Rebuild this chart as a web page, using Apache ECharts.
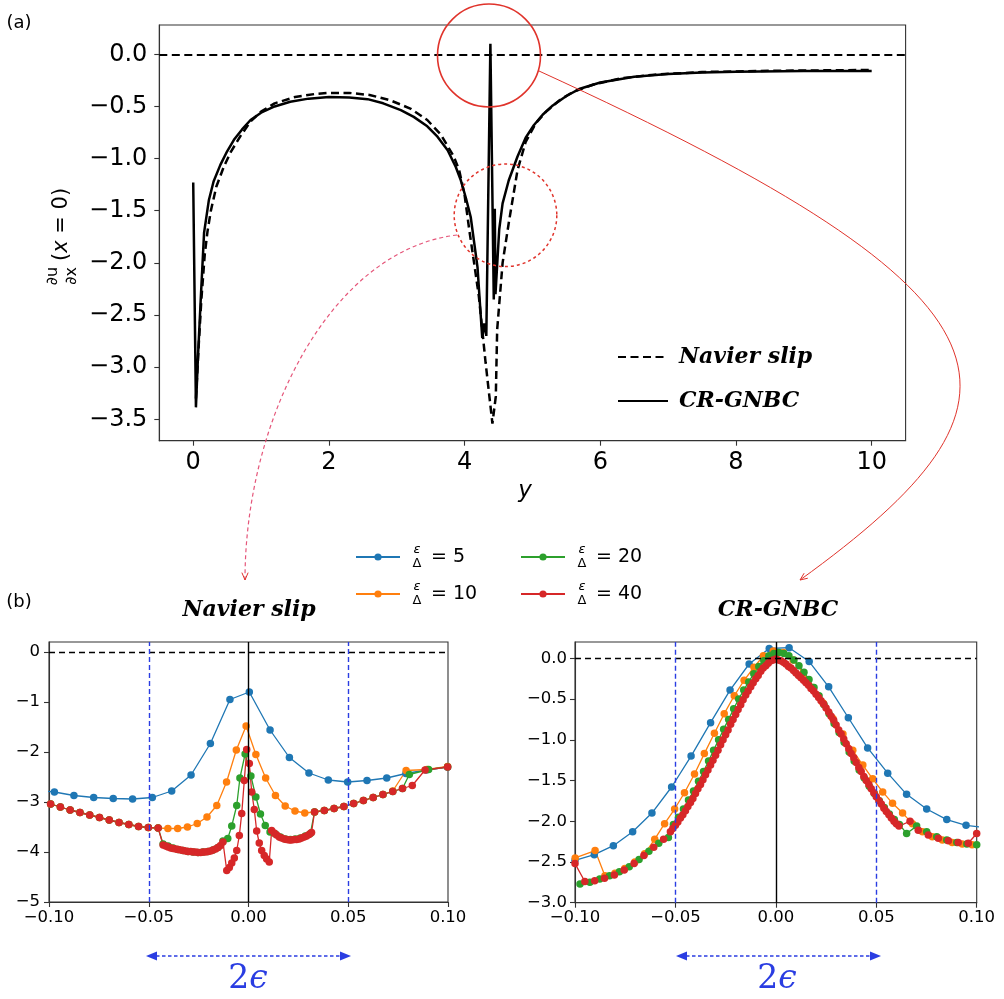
<!DOCTYPE html>
<html>
<head>
<meta charset="utf-8">
<title>Contact-line strain rate</title>
<script src="https://cdn.jsdelivr.net/npm/echarts@6/dist/echarts.min.js"></script>
<style>
  html, body { margin: 0; padding: 0; background: #fff; }
  #chart { width: 1004px; height: 999px; }
</style>
</head>
<body>
<div id="chart"></div>
<script>
// ---- (a) wall profile of du/dx at x = 0 along y ----
const profileNavier = [
  [0.040,-3.30],[0.080,-2.80],[0.120,-2.35],[0.170,-1.92],[0.210,-1.70],[0.260,-1.50],[0.340,-1.27],
  [0.450,-1.08],[0.550,-0.94],[0.700,-0.78],[0.850,-0.64],[1.000,-0.55],[1.200,-0.47],[1.500,-0.41],
  [1.800,-0.38],[2.000,-0.37],[2.300,-0.37],[2.600,-0.39],[2.900,-0.44],[3.200,-0.52],[3.450,-0.63],
  [3.650,-0.77],[3.840,-0.98],[3.920,-1.11],[4.000,-1.35],[4.070,-1.69],[4.140,-2.00],[4.210,-2.32],
  [4.310,-2.96],[4.410,-3.54],[4.460,-3.28],[4.480,-2.64],[4.560,-2.00],[4.650,-1.62],[4.780,-1.11],
  [4.900,-0.84],[5.050,-0.66],[5.200,-0.55],[5.400,-0.44],[5.600,-0.36],[5.900,-0.29],[6.300,-0.23],
  [6.800,-0.195],[7.500,-0.17],[8.500,-0.158],[10.000,-0.15]
];
const profileGnbc = [
  [0.000,-1.23],[0.040,-3.385],[0.070,-2.90],[0.110,-2.36],[0.160,-1.71],[0.230,-1.40],[0.300,-1.22],
  [0.400,-1.06],[0.500,-0.93],[0.600,-0.82],[0.720,-0.72],[0.845,-0.63],[1.000,-0.56],[1.200,-0.50],
  [1.430,-0.455],[1.700,-0.425],[2.000,-0.41],[2.300,-0.415],[2.570,-0.43],[2.800,-0.47],[3.060,-0.535],
  [3.250,-0.60],[3.450,-0.69],[3.600,-0.79],[3.750,-0.92],[3.870,-1.08],[3.940,-1.20],[4.020,-1.38],
  [4.090,-1.56],[4.190,-2.04],[4.260,-2.72],[4.290,-2.58],[4.320,-2.70],[4.380,0.10],[4.430,-2.35],
  [4.445,-1.48],[4.455,-2.30],[4.510,-1.68],[4.560,-1.43],[4.650,-1.21],[4.780,-0.98],[4.900,-0.80],
  [5.020,-0.68],[5.150,-0.58],[5.300,-0.49],[5.500,-0.40],[5.700,-0.33],[6.000,-0.27],[6.500,-0.215],
  [7.000,-0.19],[7.500,-0.175],[8.000,-0.167],[9.000,-0.16],[10.000,-0.16]
];

// ---- (b) close-up near the contact line, Navier slip ----
const navierBlue = [
  [-0.1071,-2.76],[-0.0973,-2.80],[-0.0875,-2.87],[-0.0776,-2.91],[-0.0678,-2.93],[-0.0581,-2.94],
  [-0.0482,-2.91],[-0.0385,-2.78],[-0.0288,-2.46],[-0.0191,-1.83],[-0.0093,-0.95],[0.0004,-0.80],
  [0.0108,-1.56],[0.0205,-2.11],[0.0303,-2.42],[0.0400,-2.56],[0.0497,-2.60],[0.0594,-2.57],
  [0.0693,-2.52],[0.0789,-2.43],[0.0891,-2.36],[0.0998,-2.30]
];
const navierOrange = [
  [-0.0992,-3.04],[-0.0943,-3.10],[-0.0894,-3.16],[-0.0845,-3.21],[-0.0796,-3.26],[-0.0747,-3.31],
  [-0.0698,-3.36],[-0.0649,-3.41],[-0.0600,-3.45],[-0.0551,-3.49],[-0.0502,-3.51],[-0.0453,-3.52],
  [-0.0404,-3.53],[-0.0355,-3.53],[-0.0306,-3.50],[-0.0257,-3.43],[-0.0208,-3.30],[-0.0159,-3.07],
  [-0.0110,-2.60],[-0.0061,-1.96],[-0.0012,-1.48],[0.0037,-2.05],[0.0086,-2.52],[0.0135,-2.87],
  [0.0184,-3.08],[0.0233,-3.18],[0.0282,-3.22],[0.0331,-3.20],[0.0380,-3.17],[0.0429,-3.13],
  [0.0478,-3.09],[0.0527,-3.03],[0.0576,-2.97],[0.0625,-2.91],[0.0674,-2.85],[0.0723,-2.78],
  [0.0790,-2.37],[0.0895,-2.35],[0.0998,-2.29]
];
const navierGreen = [
  [-0.0992,-3.04],[-0.0943,-3.10],[-0.0894,-3.16],[-0.0845,-3.21],[-0.0796,-3.26],[-0.0747,-3.31],
  [-0.0698,-3.36],[-0.0649,-3.41],[-0.0600,-3.45],[-0.0551,-3.49],[-0.0502,-3.51],[-0.0453,-3.52],
  [-0.0428,-3.84],[-0.0403,-3.88],[-0.0378,-3.92],[-0.0353,-3.95],[-0.0328,-3.97],[-0.0303,-3.99],
  [-0.0278,-4.00],[-0.0253,-4.01],[-0.0228,-4.00],[-0.0203,-3.99],[-0.0178,-3.96],[-0.0153,-3.91],
  [-0.0128,-3.78],[-0.0104,-3.73],[-0.0084,-3.48],[-0.0059,-3.07],[-0.0043,-2.52],[-0.0017,-2.04],
  [0.0012,-2.48],[0.0037,-2.90],[0.0060,-3.24],[0.0084,-3.47],[0.0108,-3.60],[0.0135,-3.64],
  [0.0160,-3.70],[0.0185,-3.74],[0.0210,-3.75],[0.0235,-3.74],[0.0260,-3.72],[0.0285,-3.68],
  [0.0310,-3.63],[0.0331,-3.20],[0.0380,-3.17],[0.0429,-3.13],[0.0478,-3.09],[0.0527,-3.03],
  [0.0576,-2.97],[0.0625,-2.91],[0.0674,-2.85],[0.0723,-2.79],[0.0772,-2.73],[0.0806,-2.45],
  [0.0903,-2.35],[0.0998,-2.30]
];
const navierRed = [
  [-0.0992,-3.04],[-0.0943,-3.10],[-0.0894,-3.16],[-0.0845,-3.21],[-0.0796,-3.26],[-0.0747,-3.31],
  [-0.0698,-3.36],[-0.0649,-3.41],[-0.0600,-3.45],[-0.0551,-3.49],[-0.0502,-3.51],[-0.0453,-3.52],
  [-0.0428,-3.86],[-0.0415,-3.88],[-0.0403,-3.90],[-0.0390,-3.92],[-0.0378,-3.93],[-0.0365,-3.94],
  [-0.0353,-3.95],[-0.0340,-3.96],[-0.0328,-3.97],[-0.0315,-3.98],[-0.0303,-3.99],[-0.0290,-3.99],
  [-0.0278,-4.00],[-0.0265,-4.00],[-0.0253,-4.01],[-0.0240,-4.01],[-0.0228,-4.00],[-0.0215,-4.00],
  [-0.0203,-3.99],[-0.0190,-3.98],[-0.0178,-3.96],[-0.0165,-3.94],[-0.0153,-3.91],[-0.0140,-3.87],
  [-0.0128,-3.80],[-0.0109,-4.37],[-0.0096,-4.31],[-0.0084,-4.22],[-0.0071,-4.12],[-0.0059,-3.97],
  [-0.0046,-3.67],[-0.0034,-3.23],[-0.0021,-2.57],[-0.0009,-1.95],[0.0004,-2.23],[0.0016,-2.80],
  [0.0029,-3.15],[0.0041,-3.58],[0.0054,-3.82],[0.0066,-3.97],[0.0079,-4.07],[0.0091,-4.14],
  [0.0104,-4.20],[0.0116,-3.57],[0.0129,-3.62],[0.0141,-3.66],[0.0154,-3.70],[0.0166,-3.72],
  [0.0179,-3.74],[0.0191,-3.75],[0.0204,-3.76],[0.0216,-3.76],[0.0229,-3.75],[0.0241,-3.75],
  [0.0254,-3.74],[0.0266,-3.72],[0.0279,-3.70],[0.0291,-3.68],[0.0304,-3.65],[0.0316,-3.61],
  [0.0331,-3.20],[0.0380,-3.17],[0.0429,-3.13],[0.0478,-3.09],[0.0527,-3.03],[0.0576,-2.97],
  [0.0625,-2.91],[0.0674,-2.85],[0.0723,-2.79],[0.0772,-2.73],[0.0821,-2.67],[0.0885,-2.36],
  [0.0998,-2.30]
];

// ---- (b) close-up near the contact line, CR-GNBC ----
const gnbcBlue = [
  [-0.1000,-2.48],[-0.0904,-2.41],[-0.0809,-2.30],[-0.0713,-2.13],[-0.0617,-1.90],[-0.0519,-1.58],
  [-0.0422,-1.20],[-0.0325,-0.79],[-0.0228,-0.39],[-0.0133,-0.07],[-0.0033,0.12],[0.0066,0.13],
  [0.0166,-0.04],[0.0263,-0.35],[0.0361,-0.73],[0.0457,-1.10],[0.0557,-1.41],[0.0651,-1.67],
  [0.0751,-1.85],[0.0851,-1.98],[0.0947,-2.05],[0.1046,-2.08]
];
const gnbcOrange = [
  [-0.0999,-2.45],[-0.0900,-2.36],[-0.0851,-2.67],[-0.0801,-2.64],[-0.0752,-2.58],[-0.0702,-2.50],
  [-0.0653,-2.40],[-0.0603,-2.22],[-0.0554,-2.03],[-0.0504,-1.85],[-0.0455,-1.65],[-0.0405,-1.42],
  [-0.0356,-1.17],[-0.0306,-0.92],[-0.0257,-0.68],[-0.0207,-0.46],[-0.0158,-0.27],[-0.0109,-0.11],
  [-0.0062,0.03],[-0.0013,0.09],[0.0037,0.07],[0.0086,-0.02],[0.0136,-0.18],[0.0185,-0.36],
  [0.0235,-0.55],[0.0284,-0.74],[0.0334,-0.93],[0.0383,-1.13],[0.0433,-1.31],[0.0482,-1.48],
  [0.0532,-1.64],[0.0581,-1.78],[0.0631,-1.90],[0.0680,-2.03],[0.0730,-2.13],[0.0779,-2.19],
  [0.0829,-2.23],[0.0878,-2.26],[0.0928,-2.28],[0.0977,-2.29]
];
const gnbcGreen = [
  [-0.0975,-2.77],[-0.0926,-2.75],[-0.0877,-2.71],[-0.0828,-2.67],[-0.0779,-2.62],[-0.0730,-2.56],
  [-0.0681,-2.47],[-0.0632,-2.37],[-0.0583,-2.27],[-0.0535,-2.20],[-0.0510,-2.04],[-0.0485,-1.95],
  [-0.0460,-1.85],[-0.0435,-1.74],[-0.0410,-1.63],[-0.0385,-1.51],[-0.0360,-1.39],[-0.0335,-1.26],
  [-0.0310,-1.13],[-0.0285,-1.00],[-0.0260,-0.87],[-0.0235,-0.75],[-0.0210,-0.62],[-0.0185,-0.50],
  [-0.0160,-0.39],[-0.0135,-0.29],[-0.0110,-0.19],[-0.0085,-0.10],[-0.0060,-0.03],[-0.0035,0.03],
  [-0.0010,0.06],[0.0015,0.07],[0.0040,0.06],[0.0065,0.03],[0.0090,-0.02],[0.0115,-0.09],
  [0.0140,-0.17],[0.0165,-0.26],[0.0190,-0.36],[0.0215,-0.46],[0.0240,-0.57],[0.0265,-0.68],
  [0.0290,-0.80],[0.0315,-0.91],[0.0340,-1.03],[0.0365,-1.15],[0.0390,-1.26],[0.0415,-1.37],
  [0.0440,-1.47],[0.0465,-1.57],[0.0490,-1.66],[0.0515,-1.75],[0.0540,-1.83],[0.0565,-1.91],
  [0.0590,-1.98],[0.0615,-2.04],[0.0651,-2.15],[0.0701,-2.06],[0.0751,-2.13],[0.0801,-2.19],
  [0.0851,-2.23],[0.0901,-2.26],[0.0951,-2.28],[0.1000,-2.29]
];
const gnbcRed = [
  [-0.1000,-2.52],[-0.0951,-2.74],[-0.0902,-2.73],[-0.0853,-2.70],[-0.0804,-2.66],[-0.0755,-2.60],
  [-0.0706,-2.52],[-0.0657,-2.42],[-0.0608,-2.32],[-0.0559,-2.22],[-0.0525,-2.13],[-0.0513,-2.09],
  [-0.0500,-2.05],[-0.0488,-2.01],[-0.0475,-1.96],[-0.0463,-1.92],[-0.0450,-1.87],[-0.0438,-1.82],
  [-0.0425,-1.77],[-0.0413,-1.72],[-0.0400,-1.66],[-0.0388,-1.60],[-0.0375,-1.55],[-0.0363,-1.49],
  [-0.0350,-1.43],[-0.0338,-1.37],[-0.0325,-1.31],[-0.0313,-1.25],[-0.0300,-1.19],[-0.0288,-1.13],
  [-0.0275,-1.06],[-0.0263,-1.00],[-0.0250,-0.94],[-0.0238,-0.88],[-0.0225,-0.81],[-0.0213,-0.75],
  [-0.0200,-0.69],[-0.0188,-0.63],[-0.0175,-0.57],[-0.0163,-0.51],[-0.0150,-0.45],[-0.0138,-0.40],
  [-0.0125,-0.35],[-0.0113,-0.30],[-0.0100,-0.25],[-0.0088,-0.21],[-0.0075,-0.16],[-0.0063,-0.12],
  [-0.0050,-0.09],[-0.0038,-0.06],[-0.0025,-0.03],[-0.0013,-0.02],[0.0000,-0.01],[0.0013,-0.02],
  [0.0025,-0.03],[0.0038,-0.05],[0.0050,-0.07],[0.0063,-0.10],[0.0075,-0.12],[0.0088,-0.15],
  [0.0100,-0.18],[0.0113,-0.21],[0.0125,-0.24],[0.0138,-0.27],[0.0150,-0.30],[0.0163,-0.33],
  [0.0175,-0.37],[0.0188,-0.40],[0.0200,-0.44],[0.0213,-0.48],[0.0225,-0.52],[0.0238,-0.56],
  [0.0250,-0.61],[0.0263,-0.66],[0.0275,-0.71],[0.0288,-0.76],[0.0300,-0.82],[0.0313,-0.88],
  [0.0325,-0.93],[0.0338,-0.99],[0.0350,-1.05],[0.0363,-1.11],[0.0375,-1.17],[0.0388,-1.22],
  [0.0400,-1.28],[0.0413,-1.34],[0.0425,-1.39],[0.0438,-1.45],[0.0450,-1.50],[0.0463,-1.55],
  [0.0475,-1.60],[0.0488,-1.65],[0.0500,-1.70],[0.0513,-1.75],[0.0525,-1.79],[0.0538,-1.84],
  [0.0550,-1.88],[0.0563,-1.92],[0.0575,-1.96],[0.0588,-2.00],[0.0600,-2.03],[0.0613,-2.06],
  [0.0668,-2.00],[0.0709,-2.11],[0.0759,-2.17],[0.0809,-2.21],[0.0859,-2.24],[0.0908,-2.26],
  [0.0958,-2.27],[0.1000,-2.15]
];

// ---- ticks and labels ----
const topXTicks = [0, 2, 4, 6, 8, 10];
const topYTicks = [-3.5, -3, -2.5, -2, -1.5, -1, -0.5, 0];
const zoomXTicks = [-0.1, -0.05, 0, 0.05, 0.1];
const navierYTicks = [-5, -4, -3, -2, -1, 0];
const gnbcYTicks = [-3, -2.5, -2, -1.5, -1, -0.5, 0];
const ratios = ['5', '10', '20', '40'];
const ratioColors = ['#1f77b4', '#ff7f0e', '#2ca02c', '#d62728'];
const topNames = ['Navier slip', 'CR-GNBC'];
const bandEdges = [-0.05, 0.05];

const ratioNames = ratios.map(r => 'ε/Δ = ' + r);
const AXIS = '#333';
const ANNOT_RED = '#e0332b';
const ANNOT_PINK = '#e5567a';
const BLUE_MARK = '#2a3de2';

function fmt(digits) {
  return v => (v < -1e-9 ? '\u2212' : '') + Math.abs(v).toFixed(digits);
}

function valueAxis(gridIndex, min, max, ticks, digits, fontSize, margin) {
  return {
    type: 'value', gridIndex, min, max,
    axisLine: { show: true, onZero: false, lineStyle: { color: AXIS, width: 1.1 } },
    axisTick: { show: true, inside: false, length: 5, customValues: ticks, lineStyle: { color: AXIS, width: 1.1 } },
    axisLabel: { customValues: ticks, formatter: fmt(digits), color: '#000', fontSize, fontFamily: 'DejaVu Sans', margin },
    splitLine: { show: false }
  };
}

function zoomSeries(k, data, gi, withGuides) {
  const s = {
    name: ratioNames[k], type: 'line', xAxisIndex: gi, yAxisIndex: gi, data,
    symbol: 'circle', symbolSize: 7.5, showAllSymbol: true, clip: true, silent: true,
    color: ratioColors[k],
    lineStyle: { color: ratioColors[k], width: 1.3 },
    itemStyle: { color: ratioColors[k] },
    emphasis: { disabled: true }
  };
  if (withGuides) {
    s.markLine = {
      silent: true, symbol: ['none', 'none'], label: { show: false }, animation: false,
      emphasis: { disabled: true },
      data: [
        { yAxis: 0, lineStyle: { color: '#000', width: 1.4, type: [6, 4] } },
        { xAxis: 0, lineStyle: { color: '#000', width: 1.4, type: 'solid' } },
        { xAxis: bandEdges[0], lineStyle: { color: BLUE_MARK, width: 1.4, type: [5, 3] } },
        { xAxis: bandEdges[1], lineStyle: { color: BLUE_MARK, width: 1.4, type: [5, 3] } }
      ]
    };
  }
  return s;
}

// arrow head lines for a curve ending at (tx,ty) coming from (fx,fy)
function headPoints(tx, ty, fx, fy, len, ang) {
  const dx = fx - tx, dy = fy - ty, d = Math.hypot(dx, dy);
  const ux = dx / d, uy = dy / d, c = Math.cos(ang), s = Math.sin(ang);
  return [
    [tx + len * (ux * c - uy * s), ty + len * (ux * s + uy * c)],
    [tx, ty],
    [tx + len * (ux * c + uy * s), ty + len * (-ux * s + uy * c)]
  ];
}

function doubleArrow(x1, x2, y) {
  return [
    { type: 'line', shape: { x1: x1 + 10, y1: y, x2: x2 - 10, y2: y },
      style: { stroke: BLUE_MARK, lineWidth: 1.6, lineDash: [3.5, 2.5] } },
    { type: 'polygon', shape: { points: [[x1, y], [x1 + 11, y - 4.5], [x1 + 11, y + 4.5]] }, style: { fill: BLUE_MARK } },
    { type: 'polygon', shape: { points: [[x2, y], [x2 - 11, y - 4.5], [x2 - 11, y + 4.5]] }, style: { fill: BLUE_MARK } }
  ];
}

function fraction(cx, cy) {
  return [
    { type: 'text', x: cx, y: cy - 5, style: { text: 'ε', fontSize: 13, fontStyle: 'italic', fontFamily: 'DejaVu Sans', fill: '#000', align: 'center', verticalAlign: 'middle' } },
    { type: 'text', x: cx, y: cy + 9, style: { text: 'Δ', fontSize: 13, fontFamily: 'DejaVu Sans', fill: '#000', align: 'center', verticalAlign: 'middle' } }
  ];
}

const titleFont = { fontFamily: 'DejaVu Serif', fontStyle: 'italic', fontWeight: 'bold', fontSize: 22, fill: '#000', align: 'center', verticalAlign: 'middle' };

const curveA = { x1: 539, y1: 71, cpx1: 1040, cpy1: 300, cpx2: 1049, cpy2: 400, x2: 800, y2: 580 };
const curveB = { x1: 457, y1: 235, cpx1: 330, cpy1: 250, cpx2: 245, cpy2: 420, x2: 245, y2: 580 };

const graphics = [
  { type: 'text', x: 19, y: 23, style: { text: '(a)', fontSize: 18, fontFamily: 'DejaVu Sans', fill: '#000', align: 'center', verticalAlign: 'middle' } },
  { type: 'text', x: 19, y: 602, style: { text: '(b)', fontSize: 18, fontFamily: 'DejaVu Sans', fill: '#000', align: 'center', verticalAlign: 'middle' } },
  // rotated y label: (du/dx)(x = 0)
  { type: 'group', x: 62, y: 287, rotation: Math.PI / 2, children: [
    { type: 'text', x: 11, y: -9, style: { text: '∂u', fontSize: 16, fontFamily: 'DejaVu Sans', fill: '#000', align: 'center', verticalAlign: 'middle' } },
    { type: 'text', x: 11, y: 10, style: { text: '∂x', fontSize: 16, fontFamily: 'DejaVu Sans', fill: '#000', align: 'center', verticalAlign: 'middle' } },
    { type: 'text', x: 26, y: 0, style: { text: '({i|x} = 0)', fontSize: 21, fontFamily: 'DejaVu Sans', fill: '#000', align: 'left', verticalAlign: 'middle',
      rich: { i: { fontSize: 21, fontStyle: 'italic', fontFamily: 'DejaVu Sans', fill: '#000' } } } }
  ] },
  { type: 'text', x: 525, y: 491, style: { text: 'y', fontSize: 23, fontStyle: 'italic', fontFamily: 'DejaVu Sans', fill: '#000', align: 'center', verticalAlign: 'middle' } },
  { type: 'text', x: 249, y: 610, style: Object.assign({ text: topNames[0] }, titleFont) },
  { type: 'text', x: 778, y: 610, style: Object.assign({ text: topNames[1] }, titleFont) },
  ...fraction(417, 555), ...fraction(417, 592),
  ...fraction(582, 555), ...fraction(582, 592),
  ...doubleArrow(146, 351, 956),
  ...doubleArrow(676, 881, 956),
  { type: 'text', x: 248, y: 979, style: { text: '2{e|ϵ}', fontSize: 33, fontFamily: 'DejaVu Serif', fill: BLUE_MARK, align: 'center', verticalAlign: 'middle',
    rich: { e: { fontSize: 33, fontFamily: 'DejaVu Serif', fontStyle: 'italic', fill: BLUE_MARK } } } },
  { type: 'text', x: 777, y: 979, style: { text: '2{e|ϵ}', fontSize: 33, fontFamily: 'DejaVu Serif', fill: BLUE_MARK, align: 'center', verticalAlign: 'middle',
    rich: { e: { fontSize: 33, fontFamily: 'DejaVu Serif', fontStyle: 'italic', fill: BLUE_MARK } } } },
  // zoom markers and connectors
  { type: 'circle', z: 100, shape: { cx: 489, cy: 55.5, r: 51.5 }, style: { fill: 'none', stroke: ANNOT_RED, lineWidth: 1.6 } },
  { type: 'circle', z: 100, shape: { cx: 505.5, cy: 215.3, r: 51.3 }, style: { fill: 'none', stroke: ANNOT_RED, lineWidth: 1.5, lineDash: [3, 3] } },
  { type: 'bezierCurve', z: 100, shape: curveA, style: { fill: 'none', stroke: ANNOT_RED, lineWidth: 1 } },
  { type: 'polyline', z: 100, shape: { points: headPoints(curveA.x2, curveA.y2, curveA.cpx2, curveA.cpy2, 8, 0.4) }, style: { fill: 'none', stroke: ANNOT_RED, lineWidth: 1 } },
  { type: 'bezierCurve', z: 100, shape: curveB, style: { fill: 'none', stroke: ANNOT_PINK, lineWidth: 1.2, lineDash: [4, 3] } },
  { type: 'polyline', z: 100, shape: { points: headPoints(curveB.x2, curveB.y2, curveB.cpx2, curveB.cpy2, 8, 0.4) }, style: { fill: 'none', stroke: ANNOT_RED, lineWidth: 1 } }
];

const legendRich = { f: { width: 26 }, v: { fontSize: 19, fontFamily: 'DejaVu Sans', color: '#000', lineHeight: 22 } };

const option = {
  animation: false,
  backgroundColor: '#fff',
  grid: [
    { left: 159.3, top: 25, width: 746.3, height: 415.7, show: true, borderColor: AXIS, borderWidth: 1.1, backgroundColor: 'transparent' },
    { left: 49, top: 642, width: 399, height: 260, show: true, borderColor: AXIS, borderWidth: 1.1, backgroundColor: 'transparent' },
    { left: 575, top: 642, width: 401.7, height: 260.7, show: true, borderColor: AXIS, borderWidth: 1.1, backgroundColor: 'transparent' }
  ],
  xAxis: [
    valueAxis(0, -0.5, 10.5, topXTicks, 0, 24, 10),
    valueAxis(1, -0.1, 0.1, zoomXTicks, 2, 16.5, 7),
    valueAxis(2, -0.1, 0.1, zoomXTicks, 2, 16.5, 7)
  ],
  yAxis: [
    valueAxis(0, -3.705, 0.281, topYTicks, 1, 24, 12),
    valueAxis(1, -5, 0.2, navierYTicks, 0, 16.5, 9),
    valueAxis(2, -3, 0.2, gnbcYTicks, 1, 16.5, 8)
  ],
  legend: [
    { data: topNames, orient: 'vertical', left: 617, top: 345, padding: 0, itemWidth: 50, itemHeight: 14, itemGap: 20,
      selectedMode: false, itemStyle: { opacity: 0 },
      textStyle: { fontFamily: 'DejaVu Serif', fontStyle: 'italic', fontWeight: 'bold', fontSize: 22, lineHeight: 24, color: '#000', padding: [0, 0, 0, 6] } },
    { data: ratioNames.slice(0, 2), orient: 'vertical', left: 355, top: 546, padding: 0, itemWidth: 44, itemHeight: 9, itemGap: 15,
      selectedMode: false,
      formatter: name => '{f| }{v|= ' + ratios[ratioNames.indexOf(name)] + '}',
      textStyle: { fontSize: 19, lineHeight: 22, color: '#000', rich: legendRich } },
    { data: ratioNames.slice(2, 4), orient: 'vertical', left: 520, top: 546, padding: 0, itemWidth: 44, itemHeight: 9, itemGap: 15,
      selectedMode: false,
      formatter: name => '{f| }{v|= ' + ratios[ratioNames.indexOf(name)] + '}',
      textStyle: { fontSize: 19, lineHeight: 22, color: '#000', rich: legendRich } }
  ],
  series: [
    { name: topNames[0], type: 'line', xAxisIndex: 0, yAxisIndex: 0, data: profileNavier, symbol: 'none', silent: true,
      color: '#000', lineStyle: { color: '#000', width: 2.5, type: [8, 4.5] }, itemStyle: { color: '#000' }, emphasis: { disabled: true },
      markLine: { silent: true, symbol: ['none', 'none'], label: { show: false }, emphasis: { disabled: true },
        lineStyle: { color: '#000', width: 2.1, type: [8, 4.5] }, data: [{ yAxis: 0 }] } },
    { name: topNames[1], type: 'line', xAxisIndex: 0, yAxisIndex: 0, data: profileGnbc, symbol: 'none', silent: true,
      color: '#000', lineStyle: { color: '#000', width: 2.5, type: 'solid' }, itemStyle: { color: '#000' }, emphasis: { disabled: true } },
    zoomSeries(0, navierBlue, 1, false),
    zoomSeries(1, navierOrange, 1, false),
    zoomSeries(2, navierGreen, 1, false),
    zoomSeries(3, navierRed, 1, true),
    zoomSeries(0, gnbcBlue, 2, false),
    zoomSeries(1, gnbcOrange, 2, false),
    zoomSeries(2, gnbcGreen, 2, false),
    zoomSeries(3, gnbcRed, 2, true)
  ],
  graphic: graphics
};

const chart = echarts.init(document.getElementById('chart'), null, { renderer: 'canvas' });
chart.setOption(option);
</script>
</body>
</html>
